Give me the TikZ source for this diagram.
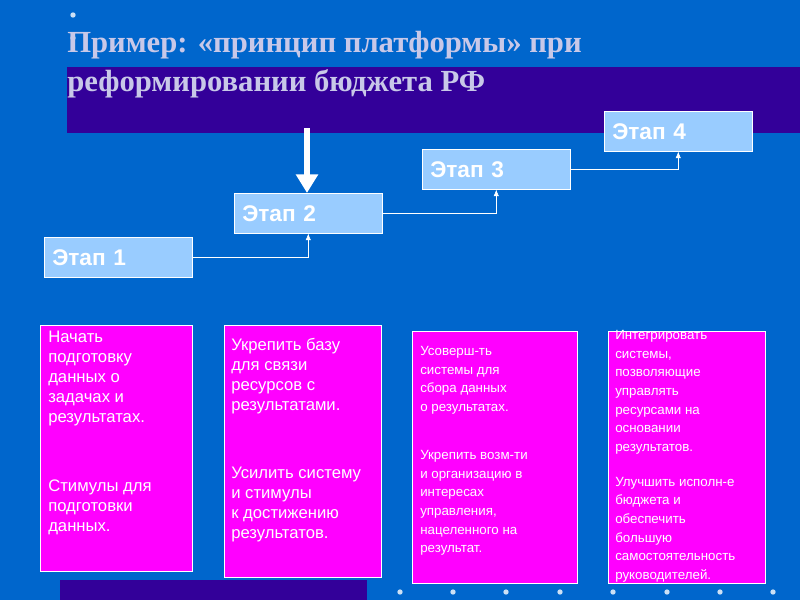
\documentclass[tikz,border=0pt]{standalone}
\usepackage{fontspec}
\setmainfont{Liberation Serif}
\setsansfont{Liberation Sans}
\usetikzlibrary{arrows.meta}
\definecolor{bgblue}{HTML}{0066CC}
\definecolor{bandblue}{HTML}{330099}
\definecolor{stagefill}{HTML}{99CCFF}
\definecolor{titlegray}{HTML}{C8C8E8}
\definecolor{taskpink}{HTML}{FF00FF}
\tikzset{
  stage/.style={draw=white, fill=stagefill, minimum width=111pt, minimum height=30pt,
    text=white, font=\sffamily\bfseries\fontsize{17}{20}\selectfont, anchor=north west,
    inner sep=0pt, text width=99pt, align=left},
  task/.style={draw=white, fill=taskpink, anchor=north west, inner sep=0pt},
  tasktext/.style={anchor=north west, text=white, align=left, inner sep=0pt,
    font=\sffamily\fontsize{12.5}{15}\selectfont},
  link/.style={white, -{Latex[length=5pt,width=4pt]}}
}
\begin{document}
\begin{tikzpicture}[x=0.75pt,y=-0.75pt]
\fill[bgblue] (0,0) rectangle (800,600);
\useasboundingbox (0,0) rectangle (800,600);
\fill[bandblue] (67,67) rectangle (800,133);
\fill[bandblue] (60,580) rectangle (367,600);
\foreach \x in {400,453,506,560,613,667,720,773}
  \fill[white!80!bgblue] (\x,592) circle (2pt);
\fill[white!80!bgblue] (73,15) circle (2pt);
\fill[white!80!bgblue] (73,38) circle (2pt);
\node[anchor=north west, text=titlegray, align=left, inner sep=0pt,
  font=\bfseries\fontsize{23}{29}\selectfont] (title) at (67,31)
  {Пример: «принцип платформы» при\\реформировании бюджета РФ};

\node[stage, minimum width=111pt] (s1) at (44,237) {Этап 1};
\node[stage] (s2) at (234,193) {Этап 2};
\node[stage] (s3) at (422,149) {Этап 3};
\node[stage] (s4) at (604,111) {Этап 4};

\draw[link] (s1.east) -| (s2.south);
\draw[link] (s2.east) -| (s3.south);
\draw[link] (s3.east) -| (s4.south);
\coordinate (arrtop) at (307,128);
\draw[white, line width=4pt, -{Triangle[length=14pt,width=16pt]}] (arrtop) -- (s2.north -| arrtop);

\node[task, minimum width=114pt, minimum height=184.5pt] (t1) at (40,325) {};
\node[task, minimum width=117.75pt, minimum height=189pt] (t2) at (224,325) {};
\node[task, minimum width=123.75pt, minimum height=189pt] (t3) at (412,331) {};
\node[task, minimum width=117.75pt, minimum height=189pt] (t4) at (608,331) {};

\node[tasktext] (x1) at (48,331) {Начать\\подготовку\\данных о\\задачах и\\ результатах.\\[2.9em]Стимулы для\\подготовки\\данных.};
\node[tasktext] (x2) at (231,338) {Укрепить базу\\для связи\\ресурсов с\\результатами.\\[2.9em]Усилить систему\\и стимулы\\к достижению\\результатов.};
\node[tasktext, font=\sffamily\fontsize{10}{14}\selectfont] (x3) at (420,346) {Усоверш-ть\\системы для\\сбора данных\\о результатах.\\[2.2em]Укрепить возм-ти\\и организацию в\\интересах\\управления,\\нацеленного на\\результат.};
\node[tasktext, font=\sffamily\fontsize{10}{14}\selectfont] (x4) at (615,330) {Интегрировать\\системы,\\позволяющие\\управлять\\ресурсами на\\основании\\результатов.\\[1.2em]Улучшить исполн-е\\бюджета и\\ обеспечить\\большую\\самостоятельность\\руководителей.};
\end{tikzpicture}
\end{document}
